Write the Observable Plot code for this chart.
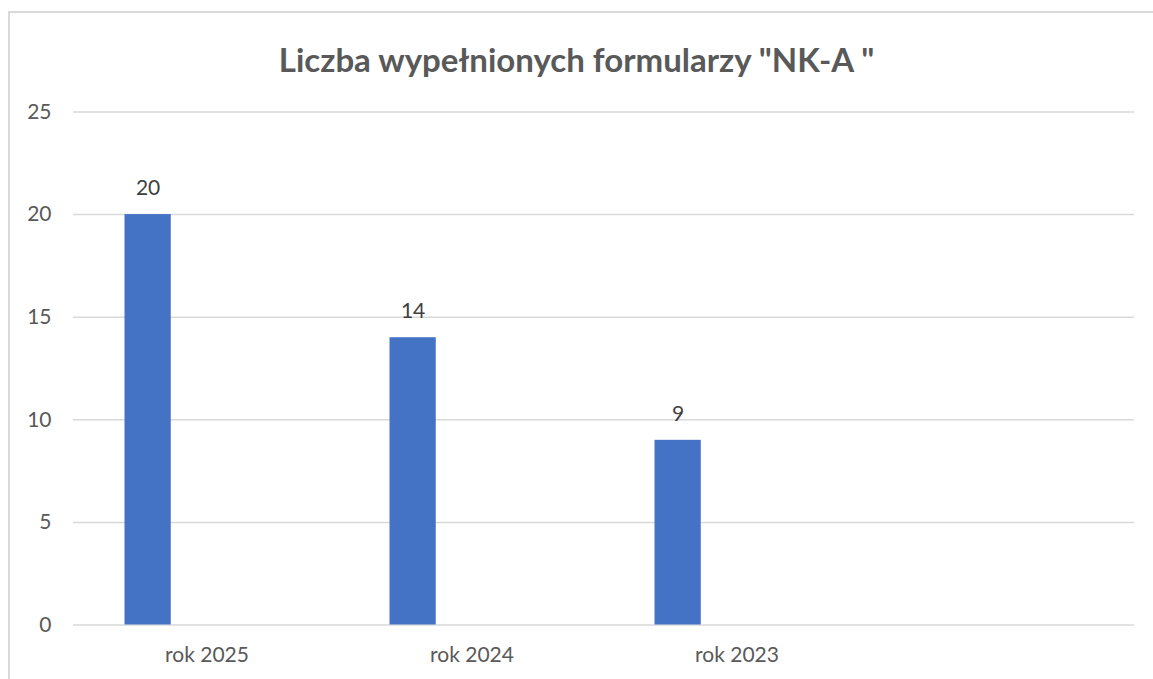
<!DOCTYPE html>
<html>
<head>
<meta charset="utf-8">
<script src="https://cdn.jsdelivr.net/npm/d3@7"></script>
<script src="https://cdn.jsdelivr.net/npm/@observablehq/plot@0.6"></script>
<style>
  body { margin: 0; background: #fff; overflow: hidden; }
  #wrap { position: relative; width: 1153px; height: 679px; overflow: hidden; font-family: Lato, "Open Sans", sans-serif; }
  #frame { position: absolute; left: 8px; top: 11px; width: 1200px; height: 800px; border: 2px solid #d9d9d9; box-sizing: border-box; }
  #title { position: relative; height: 90px; line-height: 118px; text-align: center; font-size: 33px; font-weight: bold; color: #595959; white-space: pre; }
  #chart { position: relative; }
</style>
</head>
<body>
<div id="wrap">
  <div id="frame"></div>
  <div id="title">Liczba wypełnionych formularzy "NK-A "</div>
  <div id="chart"></div>
</div>
<script>
const categories = ["rok 2025", "rok 2024", "rok 2023", ""];
const values = [20, 14, 9, null];
const yTicks = [0, 5, 10, 15, 20, 25];

const data = categories.map((c, i) => ({category: c, value: values[i]}));
const bars = data.filter(d => d.value != null);

const bandW = (1153 - 73 - 19) / categories.length;
const barL = 50.5, barR = 97;

const chart = Plot.plot({
  width: 1153,
  height: 589,
  marginTop: 21.5,
  marginBottom: 54.5,
  marginLeft: 73,
  marginRight: 19,
  style: {fontFamily: "Lato, 'Open Sans', sans-serif", fontSize: "21px", color: "#595959", background: "transparent"},
  x: {domain: categories, padding: 0, tickSize: 0, label: null},
  y: {domain: [0, 25], ticks: yTicks, tickSize: 0, label: null},
  marks: [
    Plot.gridY(yTicks, {stroke: "#d9d9d9", strokeOpacity: 1, strokeWidth: 1.5}),
    Plot.barY(bars, {x: "category", y: "value", fill: "#4472c4", insetLeft: barL, insetRight: bandW - barR}),
    Plot.text(bars, {x: "category", y: "value", text: d => String(d.value), dx: barL + (barR - barL) / 2 - bandW / 2, dy: -26, fill: "#404040", fontSize: 21}),
    Plot.axisY({ticks: yTicks, tickSize: 0, tickPadding: 22, fontSize: 21}),
    Plot.axisX({tickSize: 0, tickPadding: 22, fontSize: 21})
  ]
});
document.getElementById("chart").appendChild(chart);
</script>
</body>
</html>
